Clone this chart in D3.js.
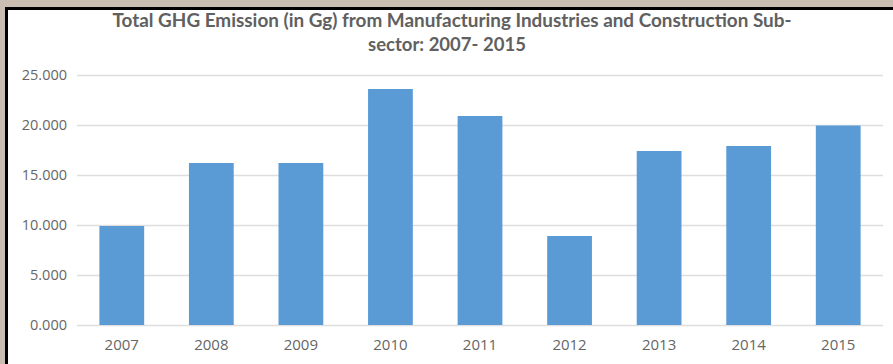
<!DOCTYPE html>
<html>
<head>
<meta charset="utf-8">
<script src="https://cdn.jsdelivr.net/npm/d3@7"></script>
<style>
  html, body { margin: 0; padding: 0; background: #c9beb1; }
  svg { display: block; }
</style>
</head>
<body>
<svg id="chart" width="893" height="364"></svg>
<script>
const categories = ["2007", "2008", "2009", "2010", "2011", "2012", "2013", "2014", "2015"];
const values = [9.9, 16.2, 16.2, 23.6, 20.9, 8.9, 17.4, 17.9, 19.95];
const yTicks = [0, 5, 10, 15, 20, 25];
const titleLines = ["Total GHG Emission (in Gg) from Manufacturing Industries and Construction Sub-", "sector: 2007- 2015"];

const svg = d3.select("#chart");

// frame background
svg.append("rect").attr("x", 0).attr("y", 0).attr("width", 893).attr("height", 364).attr("fill", "#c9beb1");
svg.append("rect").attr("x", 5).attr("y", 7).attr("width", 888).attr("height", 357).attr("fill", "#000");
svg.append("rect").attr("x", 8).attr("y", 10).attr("width", 885).attr("height", 354).attr("fill", "#fff");

const x = d3.scaleBand().domain(categories).range([77, 883]).paddingInner(0.5).paddingOuter(0.25);
const y = d3.scaleLinear().domain([0, 25]).range([325, 75]);

// gridlines
svg.append("g").selectAll("line").data(yTicks).join("line")
  .attr("x1", 77).attr("x2", 883)
  .attr("y1", d => y(d) + 0.5).attr("y2", d => y(d) + 0.5)
  .attr("stroke", "#dedede").attr("stroke-width", 1.3);

// y labels
const fmt = d3.format(".3f");
svg.append("g").selectAll("text").data(yTicks).join("text")
  .attr("x", 67).attr("y", d => y(d)).attr("dy", "0.36em")
  .attr("text-anchor", "end")
  .attr("font-family", "'Open Sans', sans-serif").attr("font-size", 14.5)
  .attr("fill", "#666")
  .text(d => fmt(d));

// bars
svg.append("g").selectAll("rect").data(values).join("rect")
  .attr("x", (d, i) => x(categories[i]))
  .attr("width", x.bandwidth())
  .attr("y", d => y(d))
  .attr("height", d => y(0) - y(d))
  .attr("fill", "#5b9bd5");

// x labels
svg.append("g").selectAll("text").data(categories).join("text")
  .attr("x", d => x(d) + x.bandwidth() / 2).attr("y", 350)
  .attr("text-anchor", "middle")
  .attr("font-family", "'Open Sans', sans-serif").attr("font-size", 15)
  .attr("fill", "#666")
  .text(d => d);

// title
const tcx = [452, 447];
const tby = [27, 51];
const tlen = [679, 0];
titleLines.forEach((t, i) => {
  const el = svg.append("text")
    .attr("x", tcx[i]).attr("y", tby[i])
    .attr("text-anchor", "middle")
    .attr("font-family", "Lato, sans-serif").attr("font-weight", "bold").attr("font-size", 18.5)
    .attr("fill", "#606060")
    .text(t);
  if (tlen[i]) el.attr("textLength", tlen[i]).attr("lengthAdjust", "spacingAndGlyphs");
});
</script>
</body>
</html>
